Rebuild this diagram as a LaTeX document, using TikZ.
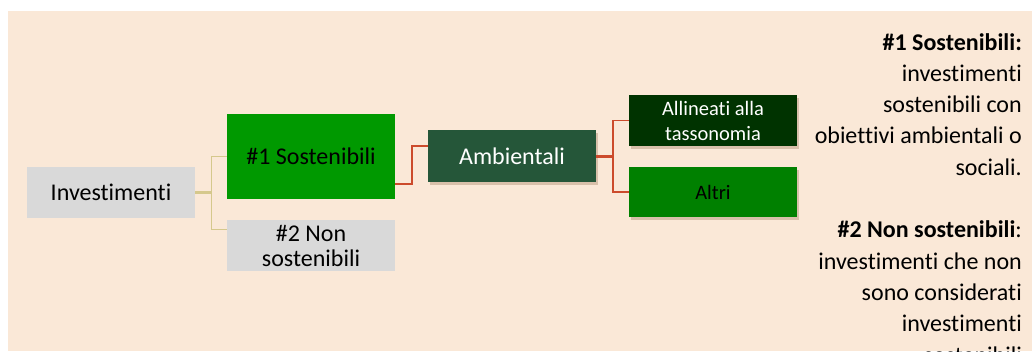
\documentclass[tikz,border=0pt]{standalone}
\usepackage{fontspec}
\setmainfont{Carlito}[Ligatures=NoCommon]
\usetikzlibrary{calc,shadows}

\definecolor{bg}{HTML}{FAE8D7}
\definecolor{boxgrey}{HTML}{D9D9D9}
\definecolor{sostgreen}{HTML}{009900}
\definecolor{ambgreen}{HTML}{255639}
\definecolor{taxgreen}{HTML}{003300}
\definecolor{altgreen}{HTML}{008000}
\definecolor{tanline}{HTML}{D5C88C}
\definecolor{redline}{HTML}{CC4B2C}

\def\boxfont{\fontsize{24}{25}\selectfont}
\def\smallboxfont{\fontsize{20.5}{25}\selectfont}

\begin{document}
\begin{tikzpicture}[x=1pt,y=-1pt,
  box/.style={inner sep=0pt,minimum width=168pt,align=center,font=\boxfont},
  shad/.style={drop shadow={shadow xshift=2pt,shadow yshift=-3pt,fill=brown!60!black,opacity=.25}},
  tanconn/.style={draw=tanline,line width=1.3pt},
  redconn/.style={draw=redline,line width=1.5pt}]
  \useasboundingbox (0,0) rectangle (1032,351);
  \fill[white] (0,0) rectangle (1032,351);
  \fill[bg] (8,11) rectangle (1032,351);

  \node[box,fill=boxgrey,minimum height=51pt] (inv) at (111,192.5) {Investimenti};
  \node[box,fill=sostgreen,minimum height=85pt] (s1) at (311,156.5) {\#1 Sostenibili};
  \node[box,fill=boxgrey,minimum height=51pt] (s2) at (311,245.5) {\#2 Non\\sostenibili};
  \node[box,shad,fill=ambgreen,text=white,minimum height=52pt] (amb) at (512,156) {Ambientali};
  \node[box,shad,fill=taxgreen,text=white,minimum height=51pt,font=\smallboxfont] (tax) at (713,120.5) {Allineati alla\\tassonomia};
  \node[box,shad,fill=altgreen,minimum height=50pt,font=\smallboxfont] (alt) at (713,192) {Altri};

  \coordinate (j1) at ($(inv.east)+(16,0)$);
  \coordinate (s2in) at ($(s2.north west)+(0,10)$);
  \coordinate (s1out) at ($(s1.south east)+(0,-15)$);
  \coordinate (ambin) at ($(amb.north west)+(0,16)$);
  \coordinate (j2) at ($(amb.east)+(17,0)$);

  \draw[tanconn,line width=3.5pt] (inv.east) -- (j1);
  \draw[tanconn] (s1.west) -| (j1) |- (s2in);
  \draw[redconn] (s1out) -- ++(17,0) |- (ambin);
  \draw[redconn,line width=3pt] (amb.east) -- (j2);
  \draw[redconn] (tax.west) -| (j2) |- (alt.west);

  \node[anchor=north east,inner sep=0pt,align=right,font=\fontsize{24}{31.3}\selectfont] (note) at (1022,33)
    {\textbf{\#1 Sostenibili:}\\investimenti\\sostenibili con\\obiettivi ambientali o\\sociali.\\[31.3pt]
     \textbf{\#2 Non sostenibili}:\\investimenti che non\\sono considerati\\investimenti\\sostenibili};
\end{tikzpicture}
\end{document}
